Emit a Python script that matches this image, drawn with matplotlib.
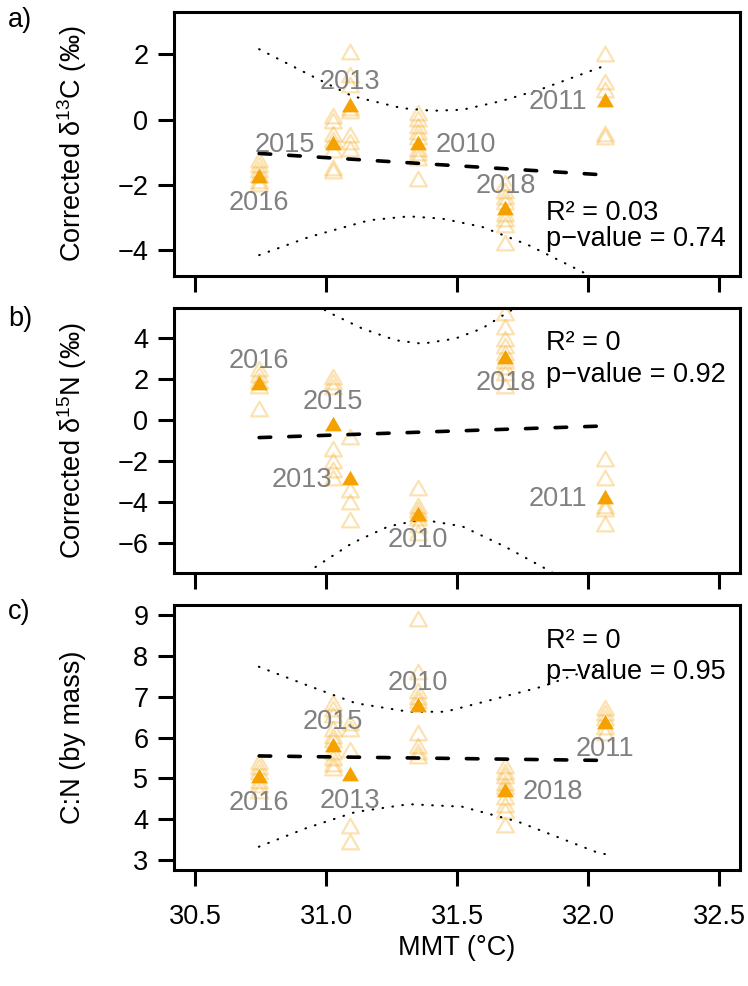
import matplotlib
matplotlib.use("Agg")
import matplotlib.pyplot as plt
from matplotlib.path import Path
from matplotlib.ticker import FormatStrFormatter

# sampling years, sorted by mean max temperature
years = ["2016", "2015", "2013", "2010", "2018", "2011"]
mmt = [30.745, 31.025, 31.09, 31.35, 31.685, 32.065]

# a) corrected d13C
d13c_mean = [-1.8, -0.78, 0.4, -0.78, -2.78, 0.55]
d13c_raw = [
    [-1.3, -1.45, -1.6, -1.75, -1.95, -2.05],
    [0.05, -0.1, -0.5, -0.7, -1.0, -1.55, -1.65],
    [2.0, 1.3, 1.0, 0.3, 0.2, -0.55, -0.75, -0.95],
    [0.15, -0.05, -0.25, -0.45, -0.6, -0.95, -1.1, -1.25, -1.9],
    [-2.0, -2.25, -2.45, -2.6, -2.95, -3.1, -3.3, -3.85],
    [1.95, 1.1, 0.85, -0.5, -0.6],
]
d13c_fit = [-1.04, -1.70]
d13c_hi_x = [30.745, 30.955, 31.10, 31.29, 31.405, 31.52, 31.67, 31.82, 32.05, 32.065]
d13c_hi = [2.16, 1.30, 0.72, 0.35, 0.27, 0.30, 0.57, 0.93, 1.61, 1.66]
d13c_lo_x = [30.745, 30.937, 31.165, 31.316, 31.443, 31.595, 31.772, 31.975, 32.065]
d13c_lo = [-4.16, -3.60, -3.09, -2.97, -3.04, -3.29, -3.85, -4.66, -5.05]
d13c_stats = ["0.03", "0.74"]

# b) corrected d15N
d15n_mean = [1.7, -0.3, -2.95, -4.7, 3.0, -3.87]
d15n_raw = [
    [2.4, 2.1, 1.8, 1.55, 0.45],
    [2.0, 1.75, 1.5, -1.5, -2.1, -2.55, -2.95],
    [-0.95, -3.5, -4.1, -5.0],
    [-3.4, -4.3, -4.5, -4.7, -4.9, -5.25, -5.6],
    [5.15, 4.45, 3.85, 3.5, 3.2, 2.8, 2.5, 2.2, 1.55],
    [-2.0, -2.95, -4.3, -4.45, -5.2],
]
d15n_fit = [-0.86, -0.29]
d15n_hi_x = [30.90, 31.006, 31.139, 31.266, 31.367, 31.493, 31.595, 31.697, 31.80]
d15n_hi = [6.2, 5.29, 4.47, 3.90, 3.73, 3.98, 4.47, 5.29, 6.05]
d15n_lo_x = [30.90, 30.962, 31.10, 31.239, 31.367, 31.52, 31.683, 31.835, 31.90]
d15n_lo = [-7.8, -7.17, -6.02, -5.20, -4.87, -5.20, -6.19, -7.25, -7.74]
d15n_stats = ["0", "0.92"]

# c) C:N
cn_mean = [5.0, 5.78, 5.05, 6.75, 4.67, 6.32]
cn_raw = [
    [5.35, 5.22, 5.1, 4.9, 4.78, 4.65],
    [6.8, 6.65, 6.5, 6.15, 6.0, 5.9, 5.6, 5.45, 5.3, 5.2],
    [6.3, 6.15, 5.65, 3.8, 3.4],
    [8.85, 7.55, 7.1, 6.95, 6.85, 6.05, 5.75, 5.6, 5.5],
    [5.25, 5.12, 5.0, 4.85, 4.75, 4.5, 4.3, 4.15, 3.82],
    [6.67, 6.55, 6.42, 6.2, 6.06],
]
cn_fit = [5.55, 5.44]
cn_hi_x = [30.744, 30.923, 31.113, 31.316, 31.455, 31.607, 31.822, 31.949, 32.065]
cn_hi = [7.73, 7.29, 6.84, 6.63, 6.63, 6.88, 7.24, 7.53, 7.73]
cn_lo_x = [30.744, 30.923, 31.113, 31.316, 31.519, 31.734, 32.031, 32.065]
cn_lo = [3.33, 3.78, 4.18, 4.37, 4.31, 3.94, 3.20, 3.15]
cn_stats = ["0", "0.95"]

xticks = [30.5, 31.0, 31.5, 32.0, 32.5]

# where each year label sits relative to its mean point
lab_a = ["below", "left", "above", "right", "above", "left"]
lab_b = ["above", "above", "left", "below", "below", "left"]
lab_c = ["below", "above", "below", "above", "right", "below"]

plt.rcParams["font.family"] = ["Liberation Sans", "DejaVu Sans"]
plt.rcParams["mathtext.fontset"] = "custom"
plt.rcParams["mathtext.rm"] = "Liberation Sans"
plt.rcParams["mathtext.it"] = "Liberation Sans:italic"

orange = "#f5a100"
grey = "#808080"
fs = 19.5
# closed equilateral triangle, like R's pch 2 / 17
tri = Path([(-1, -0.577), (1, -0.577), (0, 1.155), (-1, -0.577)],
           [Path.MOVETO, Path.LINETO, Path.LINETO, Path.CLOSEPOLY])
offs = {"below": (0, -17.5, "center"), "above": (0, 17.5, "center"),
        "left": (-12.6, 0, "right"), "right": (12.6, 0, "left")}


def panel(ax, raw, mean, fit, hi_x, hi, lo_x, lo, labs, stats, ylim, yticks, sy):
    for x, vals in zip(mmt, raw):
        ax.plot([x] * len(vals), vals, ls="none", marker=tri, ms=14, mfc="none",
                mec=orange, mew=1.6, alpha=0.3)
    ax.plot([min(mmt), max(mmt)], fit, color="black", lw=2.6, ls=(0, (3.2, 5)),
            dash_capstyle="round")
    ax.plot(hi_x, hi, color="black", lw=1.5, ls=(0, (0.3, 4.5)), dash_capstyle="round")
    ax.plot(lo_x, lo, color="black", lw=1.5, ls=(0, (0.3, 4.5)), dash_capstyle="round")
    ax.plot(mmt, mean, ls="none", marker=tri, ms=14, color=orange, mec="none")
    for yr, x, m, p in zip(years, mmt, mean, labs):
        dx, dy, ha = offs[p]
        ax.annotate(yr, (x, m), xytext=(dx, dy), textcoords="offset points",
                    ha=ha, va="center", color=grey, fontsize=fs)
    ax.text(0.658, sy[0], "R\u00b2 = " + stats[0], transform=ax.transAxes,
            fontsize=fs, va="baseline")
    ax.text(0.658, sy[1], "p\u2212value = " + stats[1], transform=ax.transAxes,
            fontsize=fs, va="baseline")
    ax.set_xlim(30.42, 32.58)
    ax.set_ylim(ylim)
    ax.set_xticks(xticks)
    ax.set_yticks(yticks)
    ax.xaxis.set_major_formatter(FormatStrFormatter("%.1f"))
    ax.tick_params(axis="both", direction="out", length=11.5, width=2.2, labelsize=fs)
    ax.tick_params(axis="x", pad=13)
    ax.tick_params(axis="y", pad=7)
    for s in ax.spines.values():
        s.set_linewidth(2.2)


fig = plt.figure(figsize=(7.48, 9.86), dpi=100)
ax1 = fig.add_axes([0.2326, 0.7201, 0.7567, 0.2677])
ax2 = fig.add_axes([0.2326, 0.4189, 0.7567, 0.2688])
ax3 = fig.add_axes([0.2326, 0.1176, 0.7567, 0.2688])

panel(ax1, d13c_raw, d13c_mean, d13c_fit, d13c_hi_x, d13c_hi, d13c_lo_x, d13c_lo,
      lab_a, d13c_stats, (-4.8, 3.3), [-4, -2, 0, 2], (0.212, 0.115))
panel(ax2, d15n_raw, d15n_mean, d15n_fit, d15n_hi_x, d15n_hi, d15n_lo_x, d15n_lo,
      lab_b, d15n_stats, (-7.48, 5.48), [-6, -4, -2, 0, 2, 4], (0.842, 0.722))
panel(ax3, cn_raw, cn_mean, cn_fit, cn_hi_x, cn_hi, cn_lo_x, cn_lo,
      lab_c, cn_stats, (2.76, 9.24), [3, 4, 5, 6, 7, 8, 9], (0.837, 0.72))
ax1.tick_params(axis="x", labelbottom=False)
ax2.tick_params(axis="x", labelbottom=False)

fig.text(0.097, 0.854, "Corrected \u03b4$^{13}$C (\u2030)", rotation=90,
         ha="center", va="center", fontsize=fs)
fig.text(0.097, 0.5532, "Corrected \u03b4$^{15}$N (\u2030)", rotation=90,
         ha="center", va="center", fontsize=fs)
fig.text(0.097, 0.252, "C:N (by mass)", rotation=90, ha="center", va="center", fontsize=fs)
fig.text(0.611, 1 - 948 / 986, "MMT (\u00b0C)", ha="center", va="center", fontsize=fs)
fig.text(0.011, 1 - 20 / 986, "a)", va="center", fontsize=fs)
fig.text(0.011, 1 - 319 / 986, "b)", va="center", fontsize=fs)
fig.text(0.011, 1 - 612 / 986, "c)", va="center", fontsize=fs)

fig.savefig("out.png", dpi=100)
